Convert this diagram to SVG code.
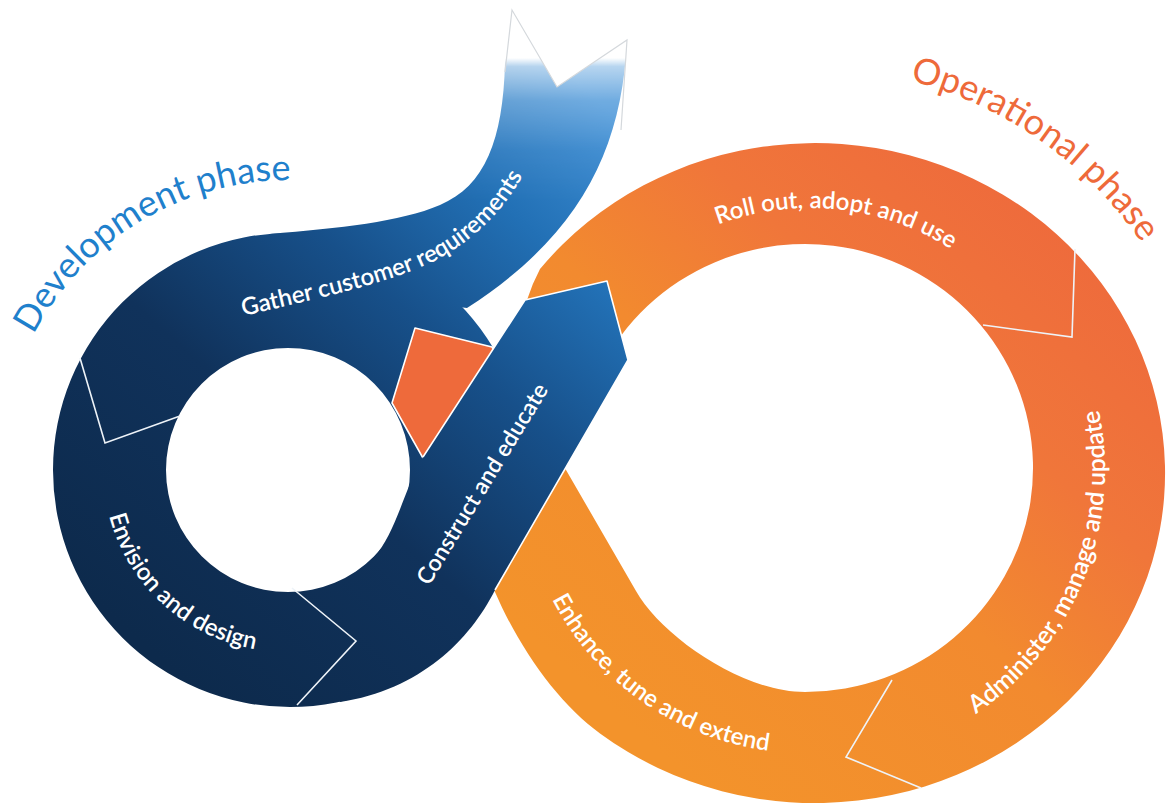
<svg xmlns="http://www.w3.org/2000/svg" width="1168" height="812" viewBox="0 0 1168 812">
<defs>
<style>
.lbl{font-family:Lato,"Open Sans","Liberation Sans",sans-serif;font-size:24px;font-weight:600;fill:#ffffff}
.ttl{font-family:Lato,"Open Sans","Liberation Sans",sans-serif;font-size:36px;font-weight:400}
.sep{fill:none;stroke:#eef3f8;stroke-width:1.6;stroke-linejoin:miter}
.edge{fill:none;stroke:#ffffff;stroke-width:1.6;stroke-linejoin:round}
</style>
<linearGradient id="gBlue" gradientUnits="userSpaceOnUse" x1="150" y1="650" x2="620" y2="120">
<stop offset="0" stop-color="#0d2a4c"/>
<stop offset="0.35" stop-color="#10325b"/>
<stop offset="0.6" stop-color="#17508a"/>
<stop offset="0.8" stop-color="#2270b5"/>
<stop offset="1" stop-color="#3e8fd6"/>
</linearGradient>
<linearGradient id="gFade" gradientUnits="userSpaceOnUse" x1="0" y1="58" x2="0" y2="200">
<stop offset="0" stop-color="#000"/>
<stop offset="0.06" stop-color="#606060"/>
<stop offset="0.3" stop-color="#bdbdbd"/>
<stop offset="0.65" stop-color="#f0f0f0"/>
<stop offset="1" stop-color="#fff"/>
</linearGradient>
<mask id="mFade" maskUnits="userSpaceOnUse" x="0" y="0" width="1168" height="812">
<rect width="1168" height="812" fill="url(#gFade)"/>
</mask>
<linearGradient id="gOrange" gradientUnits="userSpaceOnUse" x1="1050" y1="200" x2="600" y2="700">
<stop offset="0" stop-color="#ee6a3c"/>
<stop offset="0.3" stop-color="#f0763a"/>
<stop offset="0.55" stop-color="#f28a2f"/>
<stop offset="1" stop-color="#f3932b"/>
</linearGradient>
<path id="pGather" d="M 243,316 C 330,296 400,280 440,258 C 480,236 515,200 535,150"/>
<path id="pEnv" d="M 104.8,494.5 A 183 183 0 0 0 276.4,651.7"/>
<path id="pCon" d="M 411,616 L 567,360"/>
<path id="pRoll" d="M 659.7,255.4 A 262 262 0 0 1 1001.6,291.3"/>
<path id="pAdm" d="M 948.5,730.5 A 295 295 0 0 0 1090.6,378.8"/>
<path id="pEnh" d="M 537.2,565.5 A 285 285 0 0 0 805,753"/>
<path id="pDev" d="M 21.1,361.4 A 290 290 0 0 1 320.3,181.6"/>
<path id="pOps" d="M 879.8,74.1 A 402 402 0 0 1 1158.1,269"/>
</defs>

<g id="development-loop" mask="url(#mFade)" fill="url(#gBlue)">
<path fill-rule="evenodd" d="M 53,470 A 237 237 0 1 0 527,470 A 237 237 0 1 0 53,470 Z M 166,470 A 122 122 0 1 1 410,470 A 122 122 0 1 1 166,470 Z"/>
<path d="M 505,63 L 512,10 L 557,87 L 627,40 C 622,150 580,235 467,308 L 400,300 L 300,300 L 270,234 C 340,228 400,222 440,205 C 485,186 503,140 505,63 Z"/>
</g>
<polyline id="tail-outline" points="505,72 512,10 557,87 627,40 621,130" fill="none" stroke="#d4d8dc" stroke-width="1.2"/>

<g id="operational-loop">
<path fill="url(#gOrange)" d="M 600,400 L 520,312 L 527,300 Q 532,284 540,269 A 350 330 0 1 1 600,733.4 C 560,705 520,650 495,592 L 470,545 L 540,425 L 636,591 C 660,634 740,692 805,692 A 228 224 0 1 0 600,370 Z"/>
<path id="operational-end" fill="#ee6a3b" stroke="#ffffff" stroke-width="1.6" stroke-linejoin="round" d="M 455,515 L 392,403 L 415,328 L 492,347 L 521,395 Z"/>
</g>

<g id="construct-band">
<path fill="url(#gBlue)" d="M 525,300 L 607,281 L 628,360 L 495,590 C 470,640 420,690 340,702 L 300,640 L 330,600 L 374.3,556.3 C 395.5,535 406.7,482 423,457 Z"/>
<polyline class="edge" points="423,457 525,300 607,281 628,360 495,590"/>
</g>

<g id="separators">
<polyline class="sep" points="80,358 105,443 180,416"/>
<polyline class="sep" points="292,588 356,641 297,705"/>
<polyline class="sep" points="1075,249 1072,337 983,325"/>
<polyline class="sep" points="892,680 846,757 921,788"/>
</g>

<g id="labels">
<text class="lbl"><textPath href="#pGather">Gather customer requirements</textPath></text>
<text class="lbl" text-anchor="middle"><textPath href="#pEnv" startOffset="50%">Envision and design</textPath></text>
<text class="lbl" text-anchor="middle" style="font-size:23px"><textPath href="#pCon" startOffset="50%">Construct and educate</textPath></text>
<text class="lbl" text-anchor="middle"><textPath href="#pRoll" startOffset="50%">Roll out, adopt and use</textPath></text>
<text class="lbl" text-anchor="middle" style="font-size:25px"><textPath href="#pAdm" startOffset="50%">Administer, manage and update</textPath></text>
<text class="lbl" text-anchor="middle"><textPath href="#pEnh" startOffset="50%">Enhance, tune and extend</textPath></text>
</g>
<g id="titles">
<text class="ttl" fill="#1f80cc" text-anchor="middle"><textPath href="#pDev" startOffset="50%">Development phase</textPath></text>
<text class="ttl" fill="#ee6a3a" text-anchor="middle"><textPath href="#pOps" startOffset="50%">Operational phase</textPath></text>
</g>
</svg>
